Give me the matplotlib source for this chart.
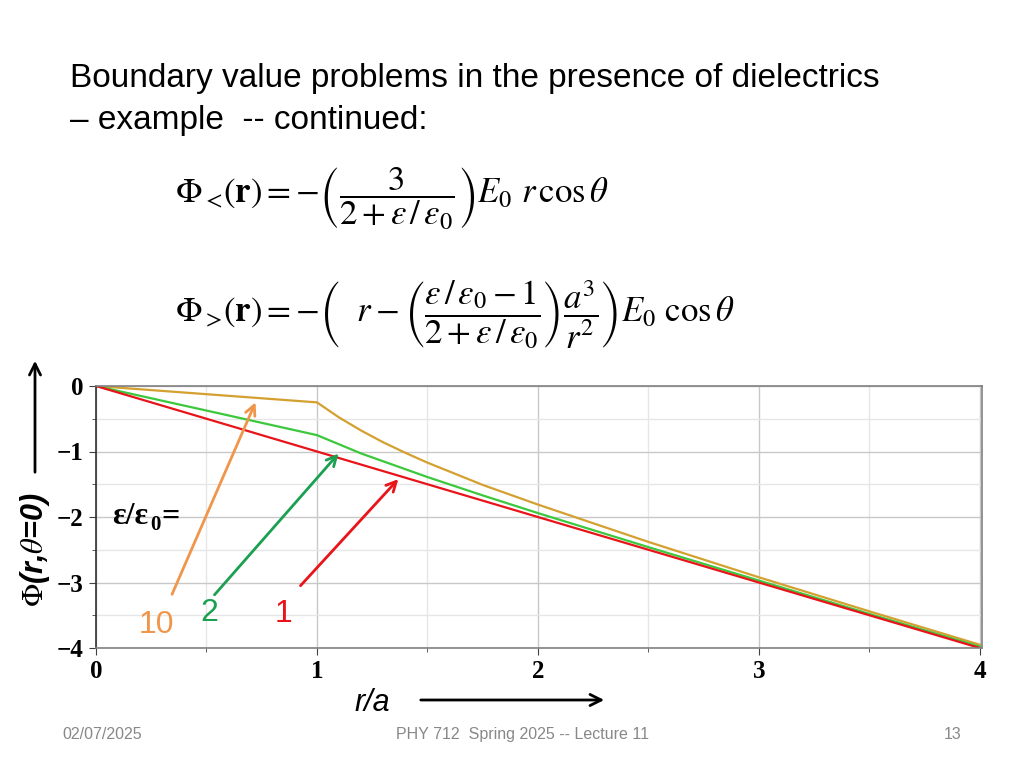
import matplotlib
matplotlib.use("Agg")
import matplotlib.pyplot as plt
from matplotlib.ticker import MultipleLocator

plt.rcParams['mathtext.fontset'] = 'stix'

# r/a positions and Phi(r, theta=0)
r_vals = [0, 1, 1.1, 1.2, 1.3, 1.4, 1.5, 1.75, 2, 2.5, 3, 3.5, 4]
phi_eps1 = [0, -1, -1.1, -1.2, -1.3, -1.4, -1.5, -1.75, -2, -2.5, -3, -3.5, -4]
phi_eps2 = [0, -0.75, -0.89, -1.03, -1.15, -1.27, -1.39, -1.67, -1.94, -2.46, -2.97, -3.48, -3.98]
phi_eps10 = [0, -0.25, -0.48, -0.68, -0.86, -1.02, -1.17, -1.51, -1.81, -2.38, -2.92, -3.44, -3.95]

eps_labels = ['10', '2', '1']
x_ticks = [0, 1, 2, 3, 4]
y_ticks = [0, -1, -2, -3, -4]

red = '#e8141a'
green = '#3cc83c'
gold = '#d4a030'

fig = plt.figure(figsize=(10.24, 7.68), dpi=100)
fig.patch.set_facecolor('white')

# slide text
title_kw = dict(fontsize=24, family='Liberation Sans', va='center', ha='left')
fig.text(70/1024, 1 - 78/768, 'Boundary value problems in the presence of dielectrics', **title_kw)
fig.text(70/1024, 1 - 120/768, '\u2013 example  -- continued:', **title_kw)

fig.text(175/1024, 1 - 199/768,
         r'$\Phi_{<}\!\left(\mathbf{r}\right) = -\left(\dfrac{3}{2+\varepsilon\,/\,\varepsilon_0}\right)E_0\ r\,\cos\theta$',
         fontsize=25, va='center', ha='left')
fig.text(175/1024, 1 - 315/768,
         r'$\Phi_{>}\!\left(\mathbf{r}\right) = -\left(\ \ r - \left(\dfrac{\varepsilon\,/\,\varepsilon_0 - 1}{2+\varepsilon\,/\,\varepsilon_0}\right)\dfrac{a^3}{r^2}\right)E_0\ \cos\theta$',
         fontsize=25, va='center', ha='left')

# footer
foot_kw = dict(fontsize=11.5, color='#888888', family='Liberation Sans', va='baseline')
fig.text(62/1024, 1 - 739/768, '02/07/2025', ha='left', **foot_kw)
fig.text(523/1024, 1 - 739/768, 'PHY 712  Spring 2025 -- Lecture 11', ha='center', **foot_kw)
fig.text(953/1024, 1 - 739/768, '13', ha='center', **foot_kw)

ax = fig.add_axes([96/1024, 1 - 648/768, 886/1024, 262/768])
ax.plot(r_vals, phi_eps10, color=gold, lw=1.6)
ax.plot(r_vals, phi_eps2, color=green, lw=1.6)
ax.plot(r_vals, phi_eps1, color=red, lw=1.6)

ax.set_xlim(0, 4.01)
ax.set_ylim(-4.0, 0.0)
ax.set_xticks(x_ticks)
ax.set_yticks(y_ticks)
ax.set_yticklabels(['0', '\u22121', '\u22122', '\u22123', '\u22124'])
ax.xaxis.set_minor_locator(MultipleLocator(0.5))
ax.yaxis.set_minor_locator(MultipleLocator(0.5))
ax.grid(which='major', color='#c8c8c8', lw=1)
ax.grid(which='minor', color='#e6e6e6', lw=1)
ax.set_axisbelow(True)
for lbl in ax.get_xticklabels() + ax.get_yticklabels():
    lbl.set_family('Liberation Serif')
    lbl.set_fontweight('bold')
    lbl.set_fontsize(18)
ax.tick_params(which='major', direction='out', length=5, color='#404040', pad=4)
ax.tick_params(which='minor', direction='out', length=3, color='#404040')
for s in ax.spines.values():
    s.set_color('#808080')
    s.set_linewidth(1.2)
ax.spines['left'].set_color('#303030')

# annotations
ax.text(0.075, -2.0, '\u03b5/\u03b5', fontsize=23, fontweight='bold',
        family='Liberation Serif', va='center', ha='left')
ax.text(0.245, -2.12, '0', fontsize=15, fontweight='bold',
        family='Liberation Serif', va='center', ha='left')
ax.text(0.295, -2.0, '=', fontsize=23, fontweight='bold',
        family='Liberation Serif', va='center', ha='left')
ax.annotate('', xy=(0.727, -0.21), xytext=(0.339, -3.22),
            arrowprops=dict(arrowstyle='->', color='#f0964a', lw=2, mutation_scale=18))
ax.annotate('', xy=(1.106, -1.0), xytext=(0.528, -3.22),
            arrowprops=dict(arrowstyle='->', color='#1aa050', lw=2, mutation_scale=18))
ax.annotate('', xy=(1.377, -1.39), xytext=(0.917, -3.08),
            arrowprops=dict(arrowstyle='->', color=red, lw=2, mutation_scale=18))
lab_kw = dict(fontsize=23, ha='center', va='center', family='Liberation Sans')
ax.text(0.275, -3.65, eps_labels[0], color='#f0964a', **lab_kw)
ax.text(0.515, -3.47, eps_labels[1], color='#1aa050', **lab_kw)
ax.text(0.849, -3.48, eps_labels[2], color=red, **lab_kw)

# axis labels with arrows
fig.text(35/1024, 1 - 550/768, r'$\mathbf{\mathit{\Phi}}$' + '(r,' + r'$\mathbf{\mathit{\theta}}$' + '=0)',
         rotation=90, fontsize=22, fontweight='bold', style='italic',
         family='Liberation Sans', va='center', ha='center')
fig.add_artist(matplotlib.patches.FancyArrowPatch((35/1024, 1 - 475/768), (35/1024, 1 - 358/768),
                                                  transform=fig.transFigure, arrowstyle='->',
                                                  mutation_scale=20, lw=2, color='black'))
fig.text(372/1024, 1 - 703/768, 'r/a', fontsize=22, style='italic',
         family='Liberation Sans', va='center', ha='center')
fig.add_artist(matplotlib.patches.FancyArrowPatch((418/1024, 1 - 700/768), (607/1024, 1 - 700/768),
                                                  transform=fig.transFigure, arrowstyle='->',
                                                  mutation_scale=20, lw=2, color='black'))

fig.savefig('out.png', dpi=100)
